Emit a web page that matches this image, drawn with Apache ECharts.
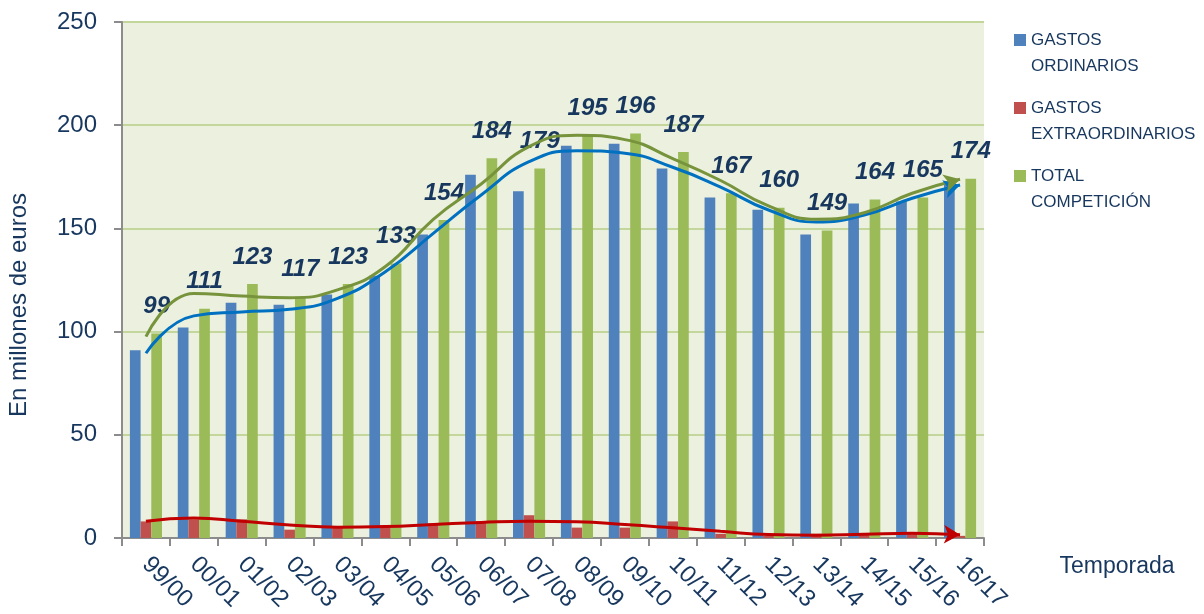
<!DOCTYPE html>
<html>
<head>
<meta charset="utf-8">
<title>Gastos de competición por temporada</title>
<script src="https://cdn.jsdelivr.net/npm/echarts@6/dist/echarts.min.js"></script>
<style>
  html, body { margin: 0; padding: 0; background: #ffffff; }
  #chart { width: 1204px; height: 614px; }
</style>
</head>
<body>
<div id="chart"></div>
<script>
// Values (millions of euros)
const temporadas = ['99/00', '00/01', '01/02', '02/03', '03/04', '04/05', '05/06', '06/07', '07/08',
  '08/09', '09/10', '10/11', '11/12', '12/13', '13/14', '14/15', '15/16', '16/17'];
const gastosOrdinarios = [91, 102, 114, 113, 118, 127, 147, 176, 168, 190, 191, 179, 165, 159, 147, 162, 163, 173];
const gastosExtraordinarios = [8, 9, 9, 4, 5, 6, 7, 8, 11, 5, 5, 8, 2, 1, 2, 2, 2, 1];
const totalCompeticion = [99, 111, 123, 117, 123, 133, 154, 184, 179, 195, 196, 187, 167, 160, 149, 164, 165, 174];

// Trend curves as drawn in the reference (read at each season)
const tendenciaTotal = [97.5, 118.5, 117.2, 116.4, 120.2, 131.5, 154.4, 171.5, 189.6, 195.1, 193, 183.8, 173.2, 160.9, 154.4, 157.6, 167, 173.8];
const tendenciaOrdinarios = [89.5, 107.6, 109.5, 110.8, 116.1, 129, 147.6, 166.2, 182.3, 187.6, 186.4, 179.6, 170, 158.9, 153.1, 156.5, 164.6, 171];
const tendenciaExtra = [8.1, 9.7, 8.1, 6.3, 5.2, 5.5, 6.5, 7.5, 8.1, 7.8, 6.5, 4.9, 3.2, 1.6, 1.3, 1.8, 2.3, 1.5];

const yTicks = [0, 50, 100, 150, 200, 250];

const navy = '#17375E';
const axisGrey = '#8C8C8C';
const font = "'Liberation Sans', Arial, sans-serif";

// trend line with an arrow head on its last point
const trendLine = (name, values, color, arrowRotate) => ({
  name: name,
  type: 'line',
  smooth: 0.5,
  symbol: 'none',
  showSymbol: true,
  silent: true,
  z: 3,
  lineStyle: { color: color, width: 3 },
  itemStyle: { color: color },
  data: values.map((v, i) => i === values.length - 1
    ? { value: v, symbol: 'arrow', symbolSize: [14, 16], symbolRotate: arrowRotate }
    : v),
});

const chart = echarts.init(document.getElementById('chart'), null, { renderer: 'canvas' });

const option = {
  animation: false,
  textStyle: { fontFamily: font },
  grid: {
    left: 122, right: 220, top: 22, bottom: 76,
    show: true,
    backgroundColor: '#EBF1DE',
    borderWidth: 0,
  },
  legend: {
    data: ['GASTOS ORDINARIOS', 'GASTOS EXTRAORDINARIOS', 'TOTAL COMPETICIÓN'],
    orient: 'vertical',
    left: 1014,
    top: 1,
    padding: 0,
    itemWidth: 12,
    itemHeight: 12,
    itemGap: -10,
    icon: 'rect',
    selectedMode: false,
    // empty first line keeps the square level with the first word
    formatter: (name) => '\u00a0\n' + name.replace(' ', '\n'),
    textStyle: {
      color: navy,
      fontSize: 17,
      lineHeight: 26,
      fontFamily: font,
    },
  },
  xAxis: {
    type: 'category',
    data: temporadas,
    axisLine: { lineStyle: { color: axisGrey, width: 2 } },
    axisTick: { show: true, length: 8, lineStyle: { color: axisGrey, width: 2 } },
    axisLabel: {
      rotate: -45,
      margin: 23,
      color: navy,
      fontSize: 24,
      interval: 0,
    },
  },
  yAxis: {
    type: 'value',
    min: 0,
    max: 250,
    interval: 50,
    axisLine: { show: true, lineStyle: { color: axisGrey, width: 2 } },
    axisTick: { show: true, length: 8, lineStyle: { color: axisGrey, width: 2 } },
    axisLabel: {
      margin: 25,
      color: navy,
      fontSize: 24,
      formatter: (v) => (yTicks.includes(v) ? String(v) : ''),
    },
    splitLine: { lineStyle: { color: '#C3D69B', width: 2 } },
  },
  graphic: [
    {
      type: 'text',
      x: 19,
      y: 305,
      rotation: Math.PI / 2,
      style: {
        text: 'En millones de euros',
        fill: navy,
        font: '24px ' + font,
        textAlign: 'center',
        textVerticalAlign: 'middle',
      },
    },
    {
      type: 'text',
      x: 1117,
      y: 567,
      style: {
        text: 'Temporada',
        fill: navy,
        font: '23px ' + font,
        textAlign: 'center',
        textVerticalAlign: 'middle',
      },
    },
  ],
  series: [
    {
      name: 'GASTOS ORDINARIOS',
      type: 'bar',
      barGap: '0%',
      barCategoryGap: '33%',
      itemStyle: { color: '#4F81BD' },
      data: gastosOrdinarios,
    },
    {
      name: 'GASTOS EXTRAORDINARIOS',
      type: 'bar',
      barGap: '0%',
      barCategoryGap: '33%',
      itemStyle: { color: '#C0504D' },
      data: gastosExtraordinarios,
    },
    {
      name: 'TOTAL COMPETICIÓN',
      type: 'bar',
      barGap: '0%',
      barCategoryGap: '33%',
      itemStyle: { color: '#9BBB59' },
      label: {
        show: true,
        position: 'top',
        distance: 15,
        color: navy,
        fontSize: 24,
        fontWeight: 'bold',
        fontStyle: 'italic',
        fontFamily: font,
      },
      labelLayout: { hideOverlap: false },
      data: totalCompeticion,
    },
    trendLine('Tendencia ordinarios', tendenciaOrdinarios, '#0070C0', -75),
    trendLine('Tendencia total', tendenciaTotal, '#77933C', -75),
    trendLine('Tendencia extraordinarios', tendenciaExtra, '#C00000', -92),
  ],
};

chart.setOption(option);
</script>
</body>
</html>
